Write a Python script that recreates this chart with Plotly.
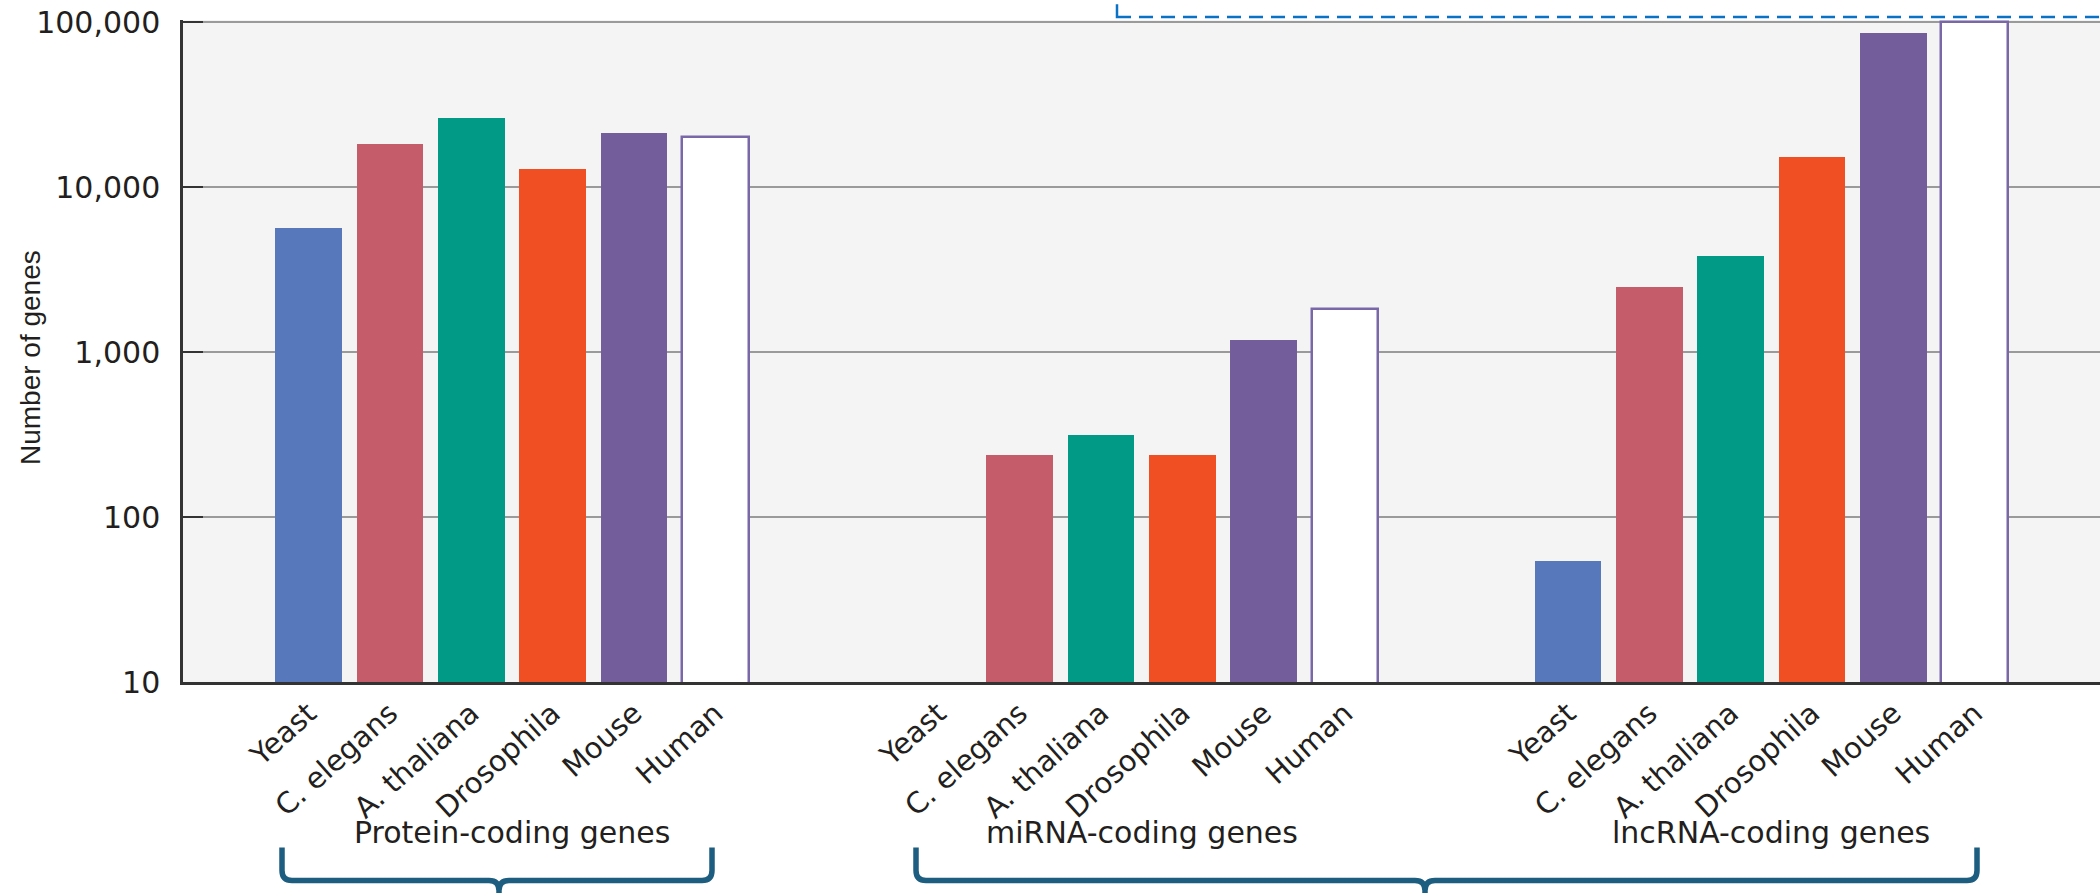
import plotly.graph_objects as go

# --- data -------------------------------------------------------------
organisms = ["Yeast", "C. elegans", "A. thaliana", "Drosophila", "Mouse", "Human"]
groups = ["Protein-coding genes", "miRNA-coding genes", "lncRNA-coding genes"]

protein_coding = [5700, 18200, 26200, 13000, 21500, 20300]
mirna_coding = [None, 239, 316, 239, 1186, 1837]
lncrna_coding = [54.5, 2490, 3820, 15300, 86300, 100000]

y_tickvals = [10, 100, 1000, 10000, 100000]
y_ticktext = ["10", "100", "1,000", "10,000", "100,000"]

colors = ["#5779bb", "#c55c69", "#009a87", "#f04e23", "#735e9b", "#ffffff"]
outline = ["#5779bb", "#c55c69", "#009a87", "#f04e23", "#735e9b", "#7a67a8"]

# --- layout constants -------------------------------------------------
W, H = 2100, 893
ML, MR, MT, MB = 183, 0, 20.3, 211.4
GROUP_STEP = 7.74        # distance between groups, in bar slots
BAR_WIDTH = 0.82
X_RANGE = [-1.543, 22.02]

TEXT = "#231f20"
FONT = "DejaVu Sans"
BRACE = "#1d5d7f"

plot_w = W - ML - MR
plot_h = H - MT - MB


def px_x(p):
    return (p - ML) / plot_w


def px_y(p):
    return (H - MB - p) / plot_h


series = [protein_coding, mirna_coding, lncrna_coding]

fig = go.Figure()
for i, name in enumerate(organisms):
    xs = [g * GROUP_STEP + i for g in range(len(groups))]
    ys = [series[g][i] for g in range(len(groups))]
    fig.add_trace(go.Bar(
        x=xs, y=ys, name=name, width=BAR_WIDTH,
        marker=dict(color=colors[i],
                    line=dict(color=outline[i], width=2.5 if i == 5 else 0)),
        showlegend=False,
    ))

tickvals = [g * GROUP_STEP + i for g in range(len(groups)) for i in range(len(organisms))]
ticktext = organisms * len(groups)

fig.update_layout(
    width=W, height=H,
    margin=dict(l=ML, r=MR, t=MT, b=MB, autoexpand=False),
    paper_bgcolor="white",
    plot_bgcolor="#f4f4f4",
    bargap=0,
    font=dict(family=FONT, color=TEXT, size=30),
    xaxis=dict(
        range=X_RANGE, tickvals=tickvals, ticktext=ticktext,
        tickangle=-42, tickfont=dict(family=FONT, size=29, color=TEXT),
        showgrid=False, zeroline=False,
        showline=True, linecolor="#333333", linewidth=2.5,
        ticks="", automargin=False,
    ),
    yaxis=dict(
        type="log", range=[1, 5.015],
        tickvals=y_tickvals, ticktext=y_ticktext,
        tickfont=dict(family=FONT, size=30, color=TEXT),
        showgrid=True, gridcolor="#9a9a9a", gridwidth=2,
        zeroline=False,
        showline=True, linecolor="#333333", linewidth=2.5,
        ticks="inside", ticklen=20, tickwidth=2, tickcolor="#333333",
        ticklabelstandoff=14, automargin=False,
    ),
)

# y-axis title
fig.add_annotation(
    xref="paper", yref="paper", x=px_x(30), y=px_y(358),
    text="Number of genes", textangle=-90, showarrow=False,
    font=dict(family="Liberation Sans", size=28, color=TEXT),
    xanchor="center", yanchor="middle",
)

# group labels under the rotated organism names
group_centres = [g * GROUP_STEP + 2.5 for g in range(len(groups))]
for g, label in enumerate(groups):
    fig.add_annotation(
        xref="x", yref="paper", x=group_centres[g], y=px_y(832),
        text=label, showarrow=False,
        font=dict(family=FONT, size=30, color=TEXT),
        xanchor="center", yanchor="middle",
    )


def brace_path(x0, x1, xc, y_top, y_h, y_bot, r=10):
    """Curly bracket opening upward, with its point at xc going down."""
    X = px_x
    Y = px_y
    left = (f"M {X(x0)},{Y(y_top)} L {X(x0)},{Y(y_h - r)} "
            f"Q {X(x0)},{Y(y_h)} {X(x0 + r)},{Y(y_h)} "
            f"L {X(xc - r)},{Y(y_h)} Q {X(xc)},{Y(y_h)} {X(xc)},{Y(y_h + r)} "
            f"L {X(xc)},{Y(y_bot)}")
    right = (f" M {X(x1)},{Y(y_top)} L {X(x1)},{Y(y_h - r)} "
             f"Q {X(x1)},{Y(y_h)} {X(x1 - r)},{Y(y_h)} "
             f"L {X(xc + r)},{Y(y_h)} Q {X(xc)},{Y(y_h)} {X(xc)},{Y(y_h + r)}")
    return left + right


for x0, x1, xc in [(282, 712, 499), (916, 1977, 1425)]:
    fig.add_shape(
        type="path", xref="paper", yref="paper",
        path=brace_path(x0, x1, xc, 847, 880, 900),
        line=dict(color=BRACE, width=5.5),
    )

# dashed frame along the top right
fig.add_shape(
    type="rect", xref="paper", yref="paper",
    x0=px_x(1117), x1=px_x(2110), y0=px_y(17.3), y1=px_y(-30),
    line=dict(color="#0a72c6", width=2.5, dash="14px,8px"),
    fillcolor="rgba(0,0,0,0)",
)

fig.write_html("out.html")
